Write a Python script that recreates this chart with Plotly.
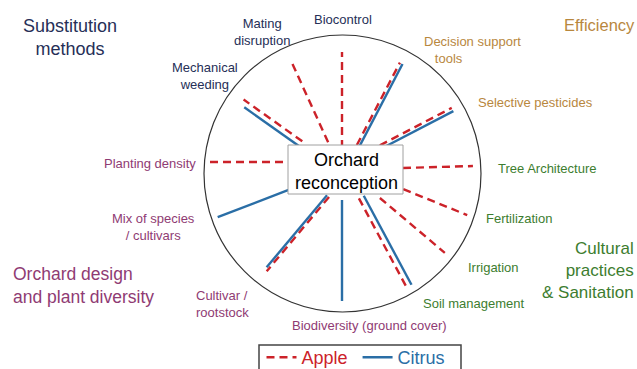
import numpy as np
import plotly.graph_objects as go

# ---------------- data ----------------
practices = [
    "Biocontrol", "Decision support<br>\u00a0\u00a0\u00a0tools", "Selective pesticides",
    "Tree Architecture", "Fertilization", "Irrigation", "Soil management",
    "Biodiversity (ground cover)", "Cultivar /<br>rootstock", "Mix of species<br>/ cultivars",
    "Planting density", "Mechanical<br>weeding", "Mating<br>disruption",
]
# spoke reach (px from the hub), None = practice not drawn for that crop
apple_reach = [118, 122, 126, 131, 133, 132, 133, None, 126, None, 132, 121, 118]
citrus_reach = [None, 122, 126, None, None, None, 134, 131, 123, 133, None, 116, None]

groups = ["Substitution<br>methods", "Efficiency",
          "Cultural<br>practices<br>& Sanitation", "Orchard design<br>and plant diversity"]
series_names = ["Apple", "Citrus"]

# ---------------- layout / geometry ----------------
W, H = 637, 369
CX, CY = 342, 170  # hub in page pixels

spoke_angle = [90, 62.4, 27.5, 1.6, -22.1, -40.2, -61.8, -90, 230, 201.1, 180, 144.6, 114.5]
spoke_start = [22, 29, 45, 61, 64, 47, 33, 30, 29, 57, 59, 49, 31]
apple_shift = [0, -1.6, 4.4, 0.3, 5.3, 3.1, 1.5, 0, 7.4, 0, -8, -0.4, 1.1]
citrus_shift = [0, -4.5, 0.8, 0, 0, 0, 7, 0, 4.8, -0.7, 0, 5.5, 0]

NAVY, TAN, GREEN, PURPLE = "#262f57", "#b8873e", "#3d7d2f", "#8f3b73"
APPLE_C, CITRUS_C = "#cc2229", "#2a6ea6"
FONT = "Arial, 'Liberation Sans', sans-serif"


def px(x, y):
    return x - CX, CY - y


def spoke_xy(reach, shift):
    xs, ys = [], []
    for a, r0, r1, d in zip(spoke_angle, spoke_start, reach, shift):
        if r1 is None:
            continue
        t = np.radians(a)
        u = np.array([np.cos(t), np.sin(t)])
        n = np.array([-np.sin(t), np.cos(t)])
        p0 = u * r0 + n * d
        p1 = u * r1 + n * d
        xs += [p0[0], p1[0], None]
        ys += [p0[1], p1[1], None]
    return xs, ys


fig = go.Figure()

ax, ay = spoke_xy(apple_reach, apple_shift)
fig.add_trace(go.Scatter(
    x=ax, y=ay, mode="lines", hoverinfo="skip",
    name=f'<span style="color:{APPLE_C}">{series_names[0]}</span>\u00a0',
    line=dict(color=APPLE_C, width=2.4, dash="8px,5px"),
))
cx_, cy_ = spoke_xy(citrus_reach, citrus_shift)
fig.add_trace(go.Scatter(
    x=cx_, y=cy_, mode="lines", hoverinfo="skip",
    name=f'<span style="color:{CITRUS_C}">{series_names[1]}</span>\u00a0\u00a0',
    line=dict(color=CITRUS_C, width=2.4),
))

# outer circle
x0, y1 = px(204, 35)
x1, y0 = px(481, 312)
fig.add_shape(type="circle", x0=x0, y0=y0, x1=x1, y1=y1, layer="below",
              line=dict(color="#333333", width=1.2))

# centre box
bx0, by1 = px(288, 145)
bx1, by0 = px(403, 194)
fig.add_shape(type="rect", x0=bx0, y0=by0, x1=bx1, y1=by1, layer="above",
              fillcolor="white", line=dict(color="#a0a0a0", width=1))
tx, ty = px(346, 171)
fig.add_annotation(x=tx, y=ty, text="Orchard<br>reconception", showarrow=False,
                   font=dict(family=FONT, size=18, color="black"))

# legend frame (runs off the bottom edge as in the original)
lx0, ly1 = px(259, 345)
lx1, ly0 = px(461, 380)
fig.add_shape(type="rect", x0=lx0, y0=ly0, x1=lx1, y1=ly1, layer="above",
              line=dict(color="#444444", width=1.5))

# practice labels: (page x, page y, xanchor, colour)
label_pos = [
    (343, 19, "center", NAVY), (422, 50, "left", TAN), (535, 102, "center", TAN),
    (547, 168, "center", GREEN), (519, 218, "center", GREEN), (493, 267, "center", GREEN),
    (474, 303, "center", GREEN), (369, 325, "center", PURPLE), (194, 304, "left", PURPLE),
    (153, 227, "center", PURPLE), (198, 163, "right", PURPLE), (205, 76, "center", NAVY),
    (262, 32, "center", NAVY),
]
for name, (x, y, anc, col) in zip(practices, label_pos):
    lx, ly = px(x, y)
    fig.add_annotation(x=lx, y=ly, text=name, showarrow=False, xanchor=anc, align=anc,
                       font=dict(family=FONT, size=13, color=col))

group_pos = [
    (70, 37.5, "center", NAVY, 18), (562, 25, "left", TAN, 16.5),
    (636, 270, "right", GREEN, 17), (11, 285, "left", PURPLE, 17.5),
]
for name, (x, y, anc, col, sz) in zip(groups, group_pos):
    gx, gy = px(x, y)
    fig.add_annotation(x=gx, y=gy, text=name, showarrow=False, xanchor=anc, align=anc,
                       font=dict(family=FONT, size=sz, color=col))

fig.update_layout(
    width=W, height=H,
    margin=dict(l=0, r=0, t=0, b=0, autoexpand=False),
    paper_bgcolor="white", plot_bgcolor="white",
    xaxis=dict(range=[-CX, W - CX], visible=False, fixedrange=True),
    yaxis=dict(range=[CY - H, CY], visible=False, fixedrange=True),
    showlegend=True,
    legend=dict(
        orientation="h",
        x=361 / W, xanchor="center", y=(H - 339) / H, yanchor="top",
        borderwidth=0, bgcolor="rgba(0,0,0,0)",
        font=dict(family=FONT, size=18), itemwidth=30,
    ),
)

fig.write_html("out.html", config={"displayModeBar": False},
               post_script="document.body.style.margin = '0';")
